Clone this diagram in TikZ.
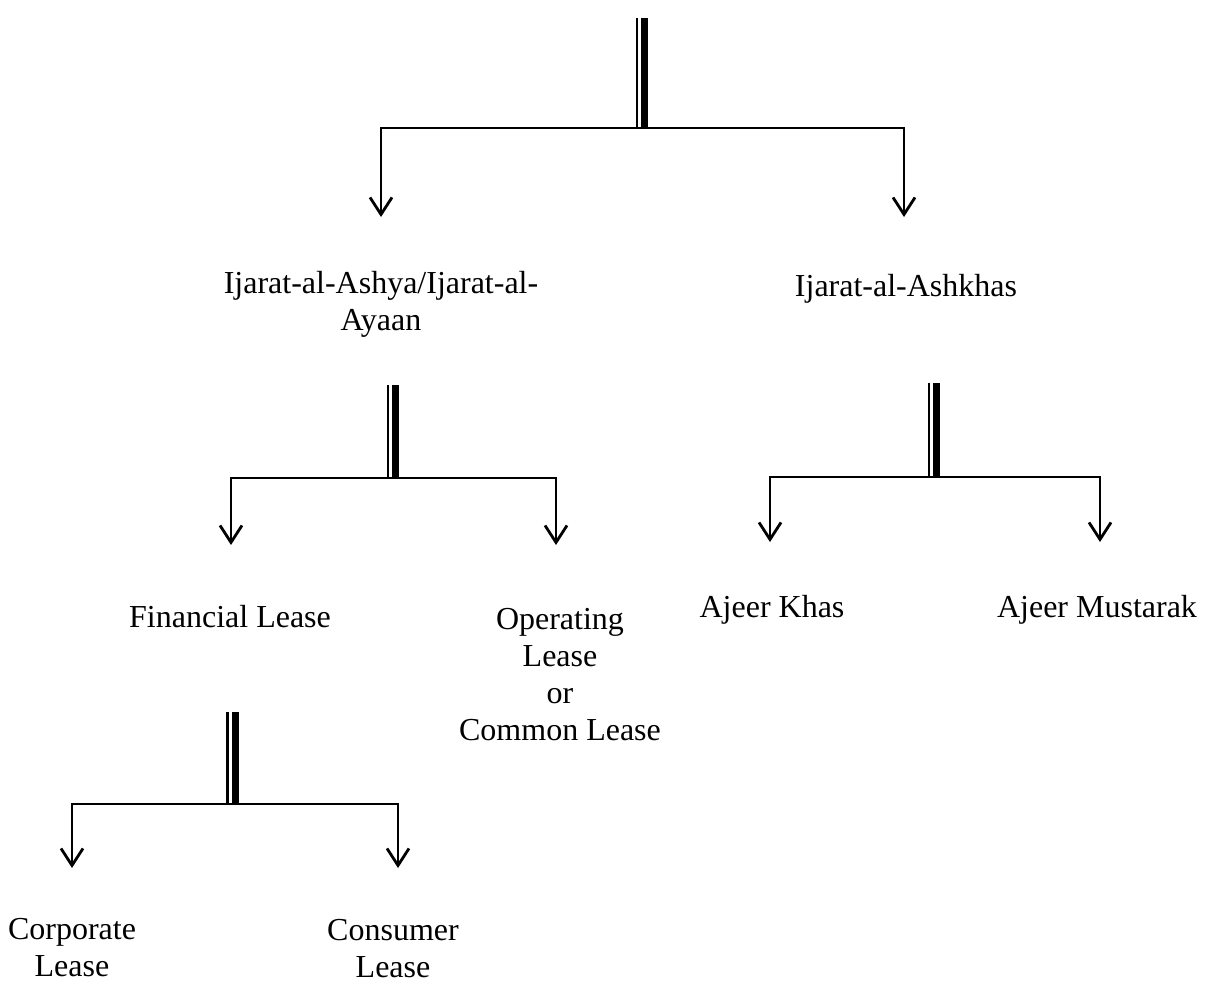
\documentclass[tikz,border=0pt]{standalone}
\usepackage{fontspec}
\setmainfont{Liberation Serif}
\usetikzlibrary{arrows.meta}
\tikzset{
  lbl/.style={font=\fontsize{32}{37}\selectfont, align=center, inner sep=0pt, anchor=base},
  conn/.style={line width=2.8pt, line join=miter, -{Straight Barb[length=17pt,width=22pt,line width=2.8pt]}},
  thinstem/.style={line width=2.2pt},
  thickstem/.style={line width=7pt},
}
\begin{document}
\begin{tikzpicture}[x=1pt,y=-1pt]
\useasboundingbox (0,0) rectangle (1206,983);
% coordinates
\coordinate (top0) at (644.5,18);   \coordinate (j0) at (644.5,128);
\coordinate (t1) at (381,217);      \coordinate (t2) at (904,217);
\coordinate (top1) at (395.5,385);  \coordinate (j1) at (395.5,478);
\coordinate (t3) at (231,545);      \coordinate (t4) at (556,545);
\coordinate (top2) at (936.5,383);  \coordinate (j2) at (936.5,477);
\coordinate (t5) at (770,542);      \coordinate (t6) at (1100,542);
\coordinate (top3) at (235,712);    \coordinate (j3) at (235,804);
\coordinate (t7) at (72,868);       \coordinate (t8) at (398,868);
% labels (base anchor = baseline of last line)
\node[lbl] (ashya) at (381,330) {Ijarat-al-Ashya/Ijarat-al-\\Ayaan};
\node[lbl] (ashkhas) at (906,296) {Ijarat-al-Ashkhas};
\node[lbl] (fin) at (230,627) {Financial Lease};
\node[lbl] (oper) at (560,740) {Operating\\Lease\\or\\Common Lease};
\node[lbl] (khas) at (772,617) {Ajeer Khas};
\node[lbl] (must) at (1097,617) {Ajeer Mustarak};
\node[lbl] (corp) at (72,976) {Corporate\\Lease};
\node[lbl] (cons) at (393,977) {Consumer\\Lease};
% stems
\foreach \a/\b in {top0/j0, top1/j1, top2/j2, top3/j3}{
  \draw[thickstem] (\a) -- (\b);
  \draw[thinstem] ([xshift=-7.5pt]\a) -- ([xshift=-7.5pt]\b);
}
% connectors
\draw[conn] (j0) -| (t1);
\draw[conn] (j0) -| (t2);
\draw[conn] (j1) -| (t3);
\draw[conn] (j1) -| (t4);
\draw[conn] (j2) -| (t5);
\draw[conn] (j2) -| (t6);
\draw[conn] (j3) -| (t7);
\draw[conn] (j3) -| (t8);
\end{tikzpicture}
\end{document}
